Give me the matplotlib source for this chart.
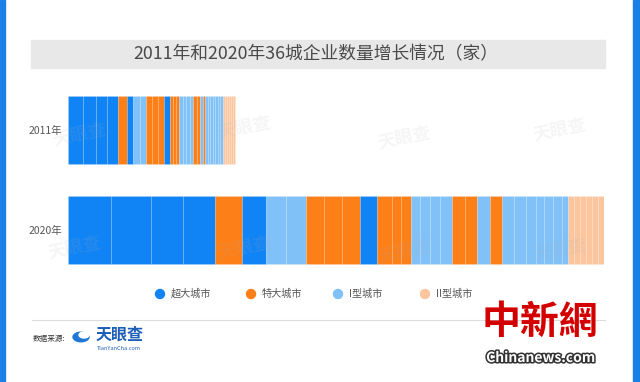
import matplotlib
matplotlib.use("Agg")
import matplotlib.pyplot as plt
from matplotlib.patches import Rectangle, Circle, Ellipse
import matplotlib.patheffects as pe

plt.rcParams['font.family'] = ['Noto Sans CJK SC', 'DejaVu Sans']

# ---------------- data ----------------
years = ["2011年", "2020年"]
categories = ["超大城市", "特大城市", "I型城市", "II型城市"]
colors = ["#1184f5", "#fd7f17", "#80c1f8", "#fbc59d"]

city_type = (["超大城市"] * 4 + ["特大城市", "超大城市", "I型城市", "I型城市",
             "特大城市", "特大城市", "特大城市", "超大城市",
             "特大城市", "特大城市", "特大城市",
             "I型城市", "I型城市", "I型城市", "I型城市",
             "特大城市", "特大城市", "I型城市", "特大城市"]
             + ["I型城市"] * 7 + ["II型城市"] * 6)

values_2011 = [15, 13, 11, 11, 9, 6, 7, 6, 6, 6, 6, 6, 3, 3, 3,
               3.5, 3.5, 3.5, 3.5, 4, 3, 2.5, 2.5,
               2.5, 2.5, 2.5, 2.5, 2.5, 2.5, 2.5, 2, 2, 2, 2, 2, 2]
values_2020 = [43, 40, 32, 32, 27, 24, 20, 20, 18, 18, 18, 17, 15, 9, 10,
               9, 10, 10, 12, 13, 12, 13, 12,
               12, 12, 10, 8, 9, 9, 6, 6, 6, 6, 6, 6, 6]

title = "2011年和2020年36城企业数量增长情况（家）"

W, H = 640, 382
fig = plt.figure(figsize=(W / 100, H / 100), dpi=100)
fig.patch.set_facecolor("white")


def fx(x):
    return x / W


def fy(y):
    return 1 - y / H


# blue side borders
fig.add_artist(Rectangle((0, 0), fx(5), 1, transform=fig.transFigure,
                         color="#1a7fe6", zorder=0))
fig.add_artist(Rectangle((fx(633), 0), fx(7), 1, transform=fig.transFigure,
                         color="#1a7fe6", zorder=0))

# title box
fig.add_artist(Rectangle((fx(31), fy(68)), fx(574), 28 / H, transform=fig.transFigure,
                         color="#e8e8e8", zorder=0))
fig.text(fx(316), fy(54), title, ha="center", va="center", fontsize=12.8,
         color="#4a4a4a")

# bars
ax = fig.add_axes([fx(68), fy(280), fx(536), 200 / H])
color_map = dict(zip(categories, colors))
series = [values_2011, values_2020]
ypos = [1, 0]
for yv, vals in zip(ypos, series):
    left = 0
    for v, t in zip(vals, city_type):
        ax.barh(yv, v, left=left, height=0.68, color=color_map[t],
                edgecolor=(1, 1, 1, 0.16), linewidth=0.5)
        left += v
ax.set_xlim(0, sum(values_2020))
ax.set_ylim(-0.5, 1.5)
ax.set_yticks(ypos)
ax.set_yticklabels(years, fontsize=7.5, color="#555555")
ax.tick_params(axis="y", length=0, pad=4)
ax.set_xticks([])
for s in ax.spines.values():
    s.set_visible(False)
ax.patch.set_alpha(0)

# faint watermarks
for (x, y) in [(80, 135), (245, 128), (405, 138), (560, 130),
               (75, 248), (245, 248), (405, 252), (560, 250)]:
    fig.text(fx(x), fy(y), "天眼查", fontsize=13, color="#b0b0b0", alpha=0.12,
             ha="center", va="center", rotation=12, fontweight="bold")

# legend
legend_x = [160, 251, 338, 425]
for x, c, lab in zip(legend_x, colors, categories):
    fig.add_artist(Ellipse((fx(x), fy(294)), 9 / W, 9 / H, transform=fig.transFigure,
                           color=c))
    fig.text(fx(x + 11), fy(294), lab, fontsize=7.3, color="#555555",
             ha="left", va="center")

# footer
fig.add_artist(plt.Line2D([fx(32), fx(605)], [fy(320), fy(320)],
                          transform=fig.transFigure, color="#dddddd", lw=0.8))
fig.text(fx(33), fy(339), "数据来源:", fontsize=5.5, color="#333333",
         ha="left", va="center")
fig.add_artist(Circle((fx(81), fy(337)), 8 / W, transform=fig.transFigure,
                      color="#1f78d6"))
fig.add_artist(Circle((fx(84), fy(335)), 5 / W, transform=fig.transFigure,
                      color="white"))
fig.text(fx(96), fy(335), "天眼查", fontsize=11.5, color="#1d5fb8",
         ha="left", va="center", fontweight="bold")
fig.text(fx(97), fy(348), "TianYanCha.com", fontsize=4, color="#1d5fb8",
         ha="left", va="center")

# chinanews watermark
fig.text(fx(540), fy(322), "中新網", fontsize=28, color="#d40000",
         ha="center", va="center", fontweight="bold",
         family=["Noto Sans CJK TC", "DejaVu Sans"])
fig.text(fx(541), fy(358), "Chinanews.com", fontsize=10, color="white",
         ha="center", va="center", fontweight="bold",
         path_effects=[pe.withStroke(linewidth=2.2, foreground="#333333")])

fig.savefig("out.png", dpi=100)
